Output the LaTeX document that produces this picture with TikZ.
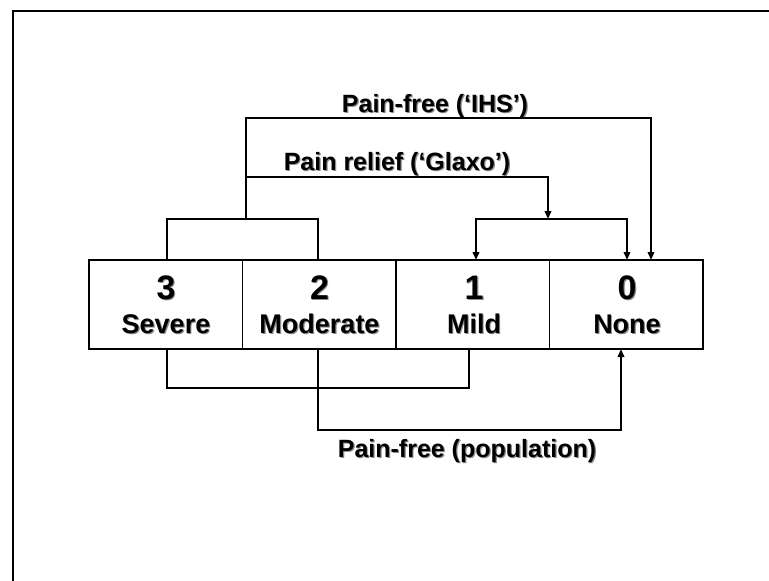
\documentclass[tikz,border=0pt]{standalone}
\usepackage{fontspec}
\setmainfont{Liberation Sans}
\usetikzlibrary{arrows.meta}
\newcommand\shd[1]{\rlap{\raisebox{-1.2pt}{\hspace{1.2pt}\textcolor{black!45}{#1}}}#1}
\begin{document}
\begin{tikzpicture}[x=1pt,y=-1pt,
  cell/.style={draw,line width=1.3pt,minimum width=153.5pt,minimum height=89pt,inner sep=0pt},
  num/.style={anchor=base,inner sep=0pt,font=\fontsize{34}{34}\selectfont\bfseries},
  lab/.style={anchor=base,inner sep=0pt,font=\fontsize{27}{27}\selectfont\bfseries},
  conlab/.style={anchor=base,inner sep=0pt,font=\fontsize{25}{25}\selectfont\bfseries},
  conn/.style={line width=2pt},
  arr/.style={line width=2pt,-{Triangle[length=8pt,width=6.5pt]}},
  frame/.style={line width=2.2pt}]
\useasboundingbox (0,0) rectangle (769,581);
% slide frame
\coordinate (fA) at (13,581);
\coordinate (fB) at (13,11);
\coordinate (fC) at (769,11);
\draw[frame] (fA) -- (fB) -- (fC);
% cells
\node[cell] (c3) at (165.75,304.5) {};
\node[cell] (c2) at (319.25,304.5) {};
\node[cell] (c1) at (472.75,304.5) {};
\node[cell] (c0) at (626.25,304.5) {};
% texts
\node[num] (n3) at (166,299) {\shd{3}};
\node[num] (n2) at (319.5,299) {\shd{2}};
\node[num] (n1) at (474,299) {\shd{1}};
\node[num] (n0) at (627,299) {\shd{0}};
\node[lab] (l3) at (166,333.5) {\shd{Severe}};
\node[lab] (l2) at (319.5,333.5) {\shd{Moderate}};
\node[lab] (l1) at (474,333.5) {\shd{Mild}};
\node[lab] (l0) at (627,333.5) {\shd{None}};
% connector labels
\node[conlab] (tIHS) at (435,112) {\shd{Pain-free (‘IHS’)}};
\node[conlab] (tGlx) at (397,170) {\shd{Pain relief (‘Glaxo’)}};
\node[conlab] (tPop) at (467,457) {\shd{Pain-free (population)}};
% junction coordinates
\coordinate (t3) at (167,260);
\coordinate (t2) at (318,260);
\coordinate (t1) at (476,260);
\coordinate (t0) at (627,260);
\coordinate (tI) at (651,260);
\coordinate (b3) at (167,349);
\coordinate (b2) at (318,349);
\coordinate (b1) at (469,349);
\coordinate (b0) at (621,349);
\coordinate (j32) at (246,219);
\coordinate (jIHS) at (246,118);
\coordinate (jGlx) at (246,177);
\coordinate (j10) at (548,219);
% top: severe/moderate bracket
\draw[conn] (t3) |- (j32) -| (t2);
% IHS
\draw[arr] (j32) -- (jIHS) -| (tI);
% Glaxo
\draw[arr] (jGlx) -| (j10);
% mild/none bracket
\draw[arr] (j10) -| (t1);
\draw[arr] (j10) -| (t0);
% bottom: severe-mild bracket
\draw[conn] (b3) -- ++(0,39) -| (b1);
% population
\draw[arr] (b2) -- ++(0,81) -| (b0);
\end{tikzpicture}
\end{document}
